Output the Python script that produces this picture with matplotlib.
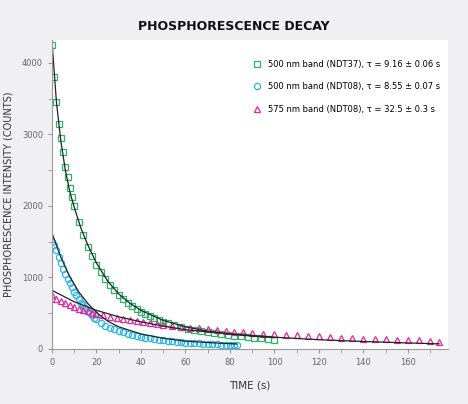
import matplotlib
matplotlib.use("Agg")
import matplotlib.pyplot as plt

g_t = [0,1,2,3,4,5,6,7,8,9,10,12,14,16,18,20,22,24,26,28,30,32,34,36,38,40,42,44,46,48,50,52,55,58,61,64,67,70,73,76,79,82,85,88,91,94,97,100]
g_y = [4250,3800,3450,3150,2950,2750,2550,2400,2250,2120,2000,1780,1600,1430,1300,1180,1070,980,900,830,760,700,650,600,560,520,490,460,430,400,380,360,330,305,285,265,248,232,218,205,195,185,175,165,155,147,138,128]
g_ft = [0,2,4,6,8,10,13,16,20,25,30,35,40,50,60,70,80,90,100]
g_fy = [4300,3450,2900,2500,2200,1980,1690,1460,1200,950,770,640,540,400,310,250,210,180,160]

b_t = [0,1,2,3,4,5,6,7,8,9,10,11,12,13,14,15,16,17,18,19,20,22,24,26,28,30,32,34,36,38,40,42,44,46,48,50,52,54,56,58,60,62,64,66,68,70,72,74,76,78,80,82,83]
b_y = [1500,1450,1380,1290,1200,1120,1050,980,920,860,800,750,700,650,610,570,530,500,470,440,420,370,320,300,280,255,235,215,200,185,170,160,150,140,130,125,110,105,100,95,90,88,85,80,75,70,68,65,60,58,55,52,50]
b_ft = [0,4,8,12,16,20,25,30,40,50,60,70,83]
b_fy = [1620,1280,1010,800,640,510,390,310,210,150,110,90,70]

p_t = [0,2,4,6,8,10,12,14,16,18,20,23,26,29,32,35,38,41,44,47,50,54,58,62,66,70,74,78,82,86,90,95,100,105,110,115,120,125,130,135,140,145,150,155,160,165,170,174]
p_y = [750,700,670,640,610,590,565,550,530,510,490,470,450,435,420,405,390,378,365,352,340,325,312,300,288,275,262,252,242,232,225,215,205,198,190,182,175,168,160,153,145,140,135,130,125,120,115,100]
p_ft = [0,10,20,30,40,50,60,80,100,120,140,160,174]
p_fy = [820,660,540,450,380,320,270,210,165,130,105,85,72]

labels = ["500 nm band (NDT37), τ = 9.16 ± 0.06 s",
          "500 nm band (NDT08), τ = 8.55 ± 0.07 s",
          "575 nm band (NDT08), τ = 32.5 ± 0.3 s"]

fig = plt.figure(figsize=(4.68, 4.04), dpi=100, facecolor="#f0f0f2")
ax = fig.add_axes([52/468, 1-349/404, (448-52)/468, (349-40)/404])
ax.set_facecolor("white")
ax.plot(g_t, g_y, ls="none", marker="s", ms=4.5, mfc="none", mec="#2db36a", mew=0.9, label=labels[0])
ax.plot(b_t, b_y, ls="none", marker="o", ms=4.5, mfc="none", mec="#29b6e8", mew=0.9, label=labels[1])
ax.plot(p_t, p_y, ls="none", marker="^", ms=5, mfc="none", mec="#e8249a", mew=0.9, label=labels[2])
for t, y in [(g_ft, g_fy), (b_ft, b_fy), (p_ft, p_fy)]:
    ax.plot(t, y, color="#222222", lw=0.9)
ax.set_xlim(0, 178)
ax.set_ylim(0, 4320)
ax.set_xticks(range(0, 161, 20))
ax.set_xticks(range(0, 171, 10), minor=True)
ax.set_yticks(range(0, 4001, 1000))
ax.set_yticks(range(0, 4001, 500), minor=True)
for s in ["top", "right"]:
    ax.spines[s].set_visible(False)
for s in ["left", "bottom"]:
    ax.spines[s].set_color("#999999")
ax.tick_params(colors="#999999", labelcolor="#666666", labelsize=6, length=3)
ax.tick_params(which="minor", colors="#999999", length=3)
ax.set_xlabel("TIME (s)", fontsize=7.5, color="#333333", labelpad=10)
ax.set_ylabel("PHOSPHORESCENCE INTENSITY (COUNTS)", fontsize=7, color="#333333", labelpad=6)
ax.legend(loc="upper right", bbox_to_anchor=(1.0, 0.96), frameon=False, fontsize=6,
          labelspacing=1.6, handletextpad=0.4)
fig.text(0.5, 1-26/404, "PHOSPHORESCENCE DECAY", ha="center", va="center", fontsize=9,
         fontweight="bold", color="#111111")
fig.savefig("out.png", dpi=100, facecolor=fig.get_facecolor())
